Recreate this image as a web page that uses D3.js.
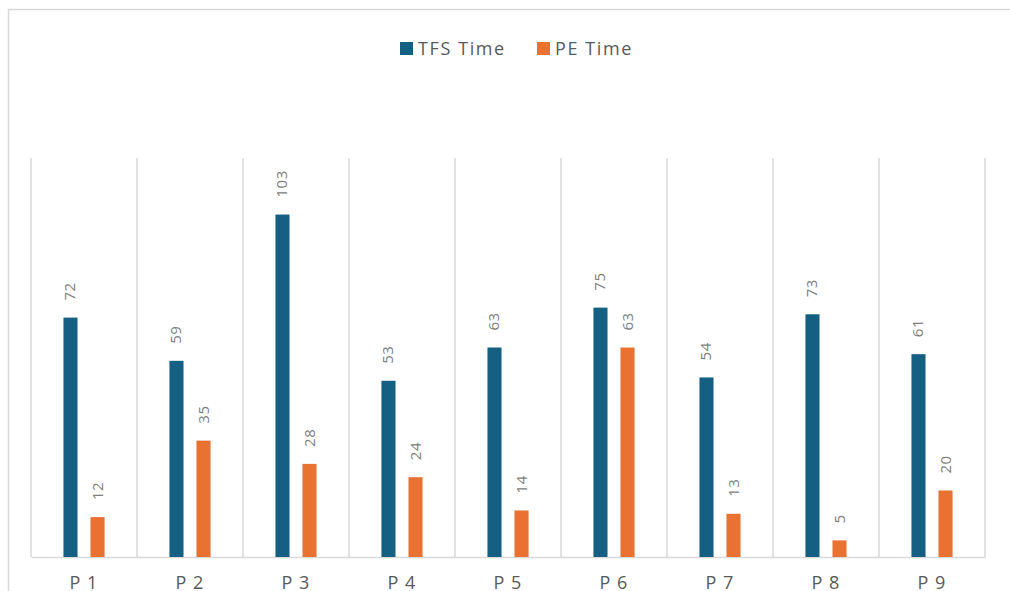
<!DOCTYPE html>
<html lang="en">
<head>
  <meta charset="UTF-8">
  <title>TFS vs PE Time</title>
  <script src="https://d3js.org/d3.v7.min.js"></script>
  <style>
    body { margin: 0; background: #fff; }
    text { font-family: "Open Sans", "Liberation Sans", sans-serif; }
  </style>
</head>
<body>
  <div id="chart"></div>

  <script>
    const categories = ["P 1", "P 2", "P 3", "P 4", "P 5", "P 6", "P 7", "P 8", "P 9"];
    const seriesNames = ["TFS Time", "PE Time"];
    const tfsTime = [72, 59, 103, 53, 63, 75, 54, 73, 61];
    const peTime = [12, 35, 28, 24, 14, 63, 13, 5, 20];
    const colors = ["#156082", "#E97132"];

    const W = 1010, H = 591;
    const plot = { left: 31, right: 985, top: 158, bottom: 557 };

    const svg = d3.select("#chart")
      .append("svg")
      .attr("width", W)
      .attr("height", H);

    // chart frame
    svg.append("rect")
      .attr("x", 8.5).attr("y", 9.5)
      .attr("width", 1040).attr("height", 640)
      .attr("fill", "none")
      .attr("stroke", "#d9d9d9")
      .attr("stroke-width", 1.5);

    const x0 = d3.scaleBand()
      .domain(categories)
      .range([plot.left, plot.right])
      .padding(0);

    const x1 = d3.scaleBand()
      .domain(seriesNames)
      .range([0, x0.bandwidth()])
      .paddingInner(0.48)
      .paddingOuter(1.2);

    const y = d3.scaleLinear()
      .domain([0, 120])
      .range([plot.bottom, plot.top]);

    // vertical gridlines at category boundaries
    const bounds = categories.map(c => x0(c)).concat([plot.right]);
    svg.append("g")
      .selectAll("line")
      .data(bounds)
      .enter()
      .append("line")
      .attr("x1", d => d).attr("x2", d => d)
      .attr("y1", plot.top).attr("y2", plot.bottom)
      .attr("stroke", "#d9d9d9")
      .attr("stroke-width", 1.5);

    // x axis
    const xAxis = svg.append("g")
      .attr("transform", `translate(0,${plot.bottom})`)
      .call(d3.axisBottom(x0).tickSize(0).tickPadding(19));
    xAxis.select(".domain")
      .attr("stroke", "#d9d9d9")
      .attr("stroke-width", 1.5);
    xAxis.selectAll("text")
      .attr("fill", "#595959")
      .attr("font-size", 18)
      .style("letter-spacing", "1px");

    const rows = categories.map((c, i) => ({ cat: c, values: [tfsTime[i], peTime[i]] }));

    const groups = svg.append("g")
      .selectAll("g")
      .data(rows)
      .enter()
      .append("g")
      .attr("transform", d => `translate(${x0(d.cat)},0)`);

    const cells = groups.selectAll("g")
      .data(d => d.values.map((v, k) => ({ s: seriesNames[k], v: v, k: k })))
      .enter()
      .append("g");

    cells.append("rect")
      .attr("x", d => x1(d.s))
      .attr("width", x1.bandwidth())
      .attr("y", d => y(d.v))
      .attr("height", d => plot.bottom - y(d.v))
      .attr("fill", d => colors[d.k]);

    cells.append("text")
      .attr("transform", d => `translate(${x1(d.s) + x1.bandwidth() / 2 + 5},${y(d.v) - 17}) rotate(-90)`)
      .attr("text-anchor", "start")
      .attr("fill", "#808080")
      .attr("font-size", 15)
      .style("letter-spacing", "0.5px")
      .text(d => d.v);

    // legend
    const legend = svg.append("g")
      .attr("transform", "translate(400,42)");
    const legendX = [0, 137];
    seriesNames.forEach((name, i) => {
      const g = legend.append("g").attr("transform", `translate(${legendX[i]},0)`);
      g.append("rect")
        .attr("width", 13).attr("height", 13)
        .attr("fill", colors[i]);
      g.append("text")
        .attr("x", 18).attr("y", 13)
        .attr("fill", "#595959")
        .attr("font-size", 18)
        .style("letter-spacing", "1.6px")
        .text(name);
    });
  </script>
</body>
</html>
